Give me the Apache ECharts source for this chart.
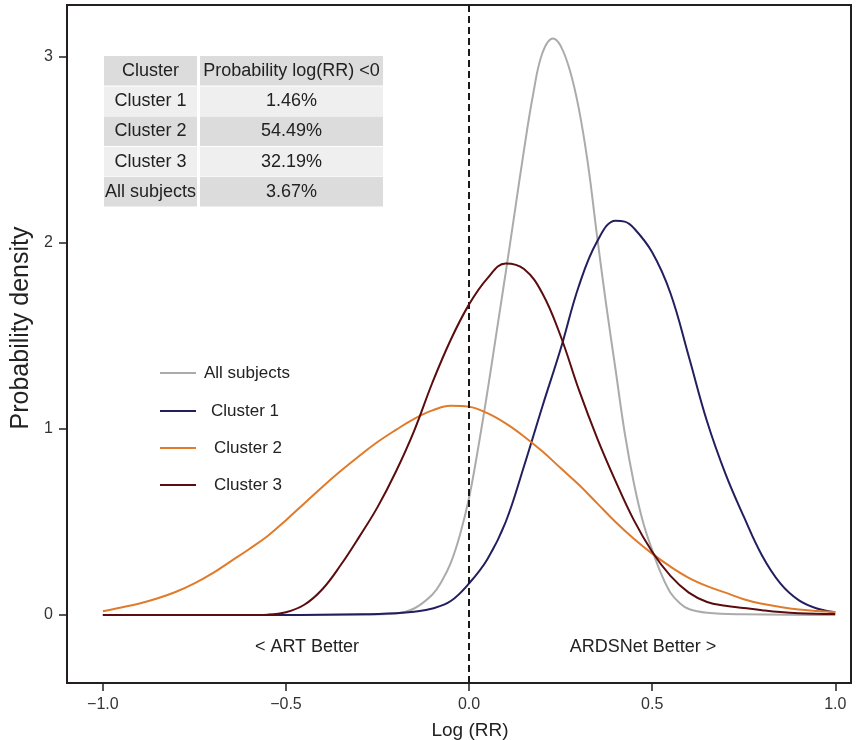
<!DOCTYPE html>
<html>
<head>
<meta charset="utf-8">
<script src="https://cdn.jsdelivr.net/npm/echarts@6/dist/echarts.min.js"></script>
<style>
  html, body { margin: 0; padding: 0; background: #fff; }
  #chart { width: 862px; height: 740px; }
</style>
</head>
<body>
<div id="chart"></div>
<script>
// tick positions
const xTicks = [-1, -0.5, 0, 0.5, 1]
const yTicks = [0, 1, 2, 3]

// density curves, [log(RR), density]
const allSubjects = [[-1, 0], [-0.6, 0], [-0.3, 0.002], [-0.2, 0.008], [-0.15, 0.035], [-0.1, 0.11],
  [-0.075, 0.18], [-0.05, 0.28], [-0.025, 0.43], [0, 0.63], [0.025, 0.9], [0.05, 1.2], [0.075, 1.52],
  [0.1, 1.84], [0.125, 2.17], [0.15, 2.5], [0.175, 2.8], [0.2, 3.02], [0.229, 3.1], [0.25, 3.06],
  [0.275, 2.93], [0.3, 2.72], [0.325, 2.42], [0.35, 2.03], [0.375, 1.66], [0.4, 1.32], [0.425, 0.98],
  [0.45, 0.71], [0.475, 0.5], [0.5, 0.35], [0.525, 0.22], [0.55, 0.12], [0.575, 0.065], [0.6, 0.032],
  [0.65, 0.012], [0.75, 0.004], [1, 0]]
const cluster1 = [[-1, 0], [-0.5, 0], [-0.3, 0.004], [-0.2, 0.01], [-0.15, 0.018], [-0.1, 0.035],
  [-0.05, 0.075], [0, 0.17], [0.05, 0.3], [0.1, 0.5], [0.15, 0.8], [0.2, 1.12], [0.25, 1.43],
  [0.3, 1.77], [0.35, 2.01], [0.4, 2.12], [0.425, 2.115], [0.45, 2.08], [0.5, 1.95], [0.55, 1.73],
  [0.6, 1.39], [0.65, 1.04], [0.7, 0.76], [0.75, 0.53], [0.8, 0.32], [0.85, 0.17], [0.9, 0.08],
  [0.95, 0.035], [1, 0.015]]
const cluster2 = [[-1, 0.02], [-0.95, 0.04], [-0.9, 0.062], [-0.85, 0.09], [-0.8, 0.125], [-0.75, 0.17],
  [-0.7, 0.225], [-0.65, 0.29], [-0.6, 0.355], [-0.55, 0.425], [-0.5, 0.51], [-0.45, 0.6], [-0.4, 0.69],
  [-0.35, 0.775], [-0.3, 0.855], [-0.25, 0.93], [-0.2, 0.995], [-0.15, 1.055], [-0.1, 1.1], [-0.05, 1.125],
  [0, 1.12], [0.05, 1.085], [0.1, 1.03], [0.15, 0.96], [0.2, 0.88], [0.25, 0.79], [0.3, 0.7],
  [0.35, 0.6], [0.4, 0.5], [0.45, 0.41], [0.5, 0.33], [0.55, 0.26], [0.6, 0.2], [0.65, 0.155],
  [0.7, 0.12], [0.75, 0.085], [0.8, 0.06], [0.85, 0.043], [0.9, 0.03], [0.95, 0.022], [1, 0.016]]
const cluster3 = [[-1, 0], [-0.6, 0], [-0.55, 0.002], [-0.5, 0.015], [-0.45, 0.055], [-0.4, 0.14],
  [-0.35, 0.27], [-0.3, 0.42], [-0.25, 0.58], [-0.2, 0.77], [-0.15, 0.99], [-0.1, 1.25], [-0.05, 1.48],
  [0, 1.67], [0.05, 1.81], [0.1, 1.89], [0.15, 1.86], [0.2, 1.73], [0.25, 1.5], [0.3, 1.21], [0.35, 0.95],
  [0.4, 0.72], [0.45, 0.51], [0.5, 0.34], [0.55, 0.21], [0.6, 0.12], [0.65, 0.07], [0.7, 0.05],
  [0.75, 0.038], [0.8, 0.026], [0.85, 0.016], [0.9, 0.01], [1, 0.005]]

const seriesNames = ['All subjects', 'Cluster 1', 'Cluster 2', 'Cluster 3']
const seriesData = [allSubjects, cluster1, cluster2, cluster3]

// inset table
const tableHeader = ['Cluster', 'Probability log(RR) <0']
const tableClusters = ['Cluster 1', 'Cluster 2', 'Cluster 3', 'All subjects']
const tableProbs = ['1.46%', '54.49%', '32.19%', '3.67%']

const colors = ['#ababab', '#221f5f', '#e07b2b', '#5a0c0e']
const ink = '#231f20'
const font = '"Liberation Sans", Arial, sans-serif'

const chart = echarts.init(document.getElementById('chart'))

// table cells as graphic elements
const graphics = []
const colX = [104, 200]
const colW = [93, 183]
const rowY = [56, 86.5, 116.5, 147, 177]
const rowH = 29.5
const rows = [tableHeader].concat(tableClusters.map((c, i) => [c, tableProbs[i]]))
rows.forEach((row, r) => {
  const fill = r % 2 === 0 ? '#dcdcdc' : '#eeefee'
  row.forEach((txt, c) => {
    graphics.push({
      type: 'rect',
      shape: { x: colX[c], y: rowY[r], width: colW[c], height: rowH },
      style: { fill: fill },
      silent: true,
    })
    graphics.push({
      type: 'text',
      x: colX[c] + colW[c] / 2,
      y: rowY[r] + rowH / 2,
      style: {
        text: txt, fill: '#222', font: '18px ' + font,
        align: 'center', verticalAlign: 'middle',
      },
      silent: true,
    })
  })
})
graphics.push({
  type: 'text', x: 307, y: 647,
  style: { text: '< ART Better', fill: '#222', font: '18px ' + font, align: 'center', verticalAlign: 'middle' },
})
graphics.push({
  type: 'text', x: 643, y: 647,
  style: { text: 'ARDSNet Better >', fill: '#222', font: '18px ' + font, align: 'center', verticalAlign: 'middle' },
})

// one legend per entry so each can sit where it does in the picture
const legendTops = [373, 411, 448, 485]
const legendPad = [8, 15, 18, 18]
const legends = seriesNames.map((name, i) => ({
  data: [{ name: name, icon: 'rect' }],
  left: 160,
  top: legendTops[i] - 10,
  padding: 0,
  itemWidth: 36,
  itemHeight: 2,
  selectedMode: false,
  textStyle: { color: '#222', fontSize: 17, fontFamily: font, lineHeight: 20, padding: [0, 0, 0, legendPad[i] - 5] },
}))

const fmt = v => (v < 0 ? '\u2212' : '') + Math.abs(v).toFixed(1)

chart.setOption({
  animation: false,
  grid: {
    left: 67, right: 11, top: 5, bottom: 57,
    outerBoundsMode: 'none',
    show: true, borderColor: ink, borderWidth: 2, backgroundColor: 'transparent',
  },
  legend: legends,
  xAxis: {
    type: 'value',
    min: -1.098,
    max: 1.043,
    name: 'Log (RR)',
    nameLocation: 'middle',
    nameGap: 38,
    nameTextStyle: { color: '#222', fontSize: 19, fontFamily: font, padding: [0, 0, 0, 22] },
    axisLine: { show: true, onZero: false, lineStyle: { color: ink, width: 2 } },
    axisTick: { show: true, length: 8, customValues: xTicks, lineStyle: { color: ink, width: 1.5 } },
    axisLabel: { customValues: xTicks, formatter: fmt, color: '#333', fontSize: 16, fontFamily: font, margin: 14 },
    splitLine: { show: false },
  },
  yAxis: {
    type: 'value',
    min: -0.3656,
    max: 3.2796,
    name: 'Probability density',
    nameLocation: 'middle',
    nameGap: 33,
    nameTextStyle: { color: '#222', fontSize: 25, fontFamily: font, padding: [0, 0, 0, 32] },
    axisLine: { show: true, onZero: false, lineStyle: { color: ink, width: 2 } },
    axisTick: { show: true, length: 8, customValues: yTicks, lineStyle: { color: ink, width: 1.5 } },
    axisLabel: { customValues: yTicks, color: '#333', fontSize: 16, fontFamily: font, margin: 14 },
    splitLine: { show: false },
  },
  series: seriesData.map((d, i) => ({
    name: seriesNames[i],
    type: 'line',
    data: d,
    smooth: 0.4,
    symbol: 'none',
    lineStyle: { color: colors[i], width: 2 },
    itemStyle: { color: colors[i] },
    z: 2 + i,
    markLine: i === 0 ? {
      silent: true,
      symbol: ['none', 'none'],
      label: { show: false },
      lineStyle: { type: [7, 4], color: '#1a1a1a', width: 2 },
      data: [{ xAxis: 0 }],
    } : undefined,
  })),
  graphic: graphics,
})
</script>
</body>
</html>
